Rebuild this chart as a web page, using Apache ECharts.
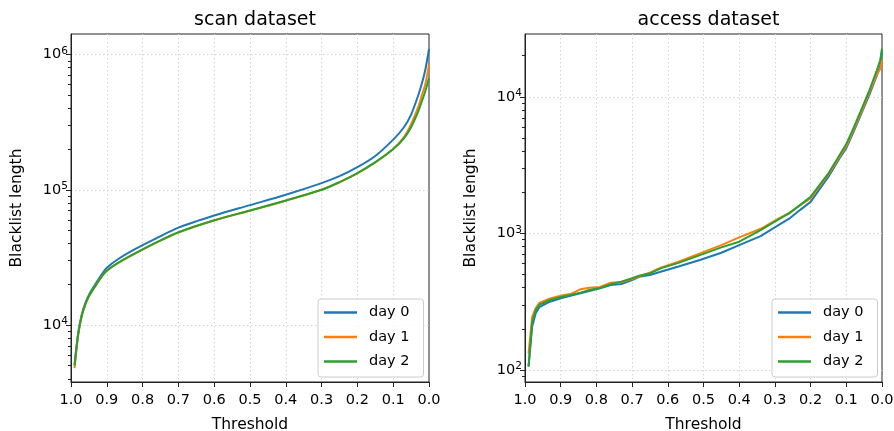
<!DOCTYPE html>
<html>
<head>
<meta charset="utf-8">
<script src="https://cdn.jsdelivr.net/npm/echarts@6/dist/echarts.min.js"></script>
<style>
  html, body { margin: 0; padding: 0; background: #fff; }
  #chart { width: 894px; height: 431px; }
</style>
</head>
<body>
<div id="chart"></div>
<script>
// --- data ---
const dayNames = ['day 0', 'day 1', 'day 2']
const dayColors = ['#1f77b4', '#ff7f0e', '#2ca02c']

const scanX = [0.99, 0.98, 0.97, 0.96, 0.95, 0.93, 0.915, 0.9, 0.87, 0.82, 0.76, 0.7, 0.6, 0.5, 0.4, 0.3, 0.25, 0.2, 0.15, 0.1, 0.07, 0.05, 0.03, 0.02, 0.01, 0.0]
const scanDay0 = [5100, 8700, 11900, 14500, 16700, 20400, 23500, 26500, 30500, 36500, 44000, 52500, 64500, 77000, 91900, 112000, 126000, 147000, 178000, 235000, 290000, 360000, 500000, 610000, 780000, 1100000]
const scanDay1 = [4800, 8400, 11700, 14200, 16300, 19800, 22700, 25200, 28500, 33800, 40800, 48300, 59300, 70000, 83000, 100000, 113500, 132000, 159000, 200000, 245000, 305000, 410000, 500000, 610000, 843000]
const scanDay2 = [5000, 8500, 11700, 14200, 16300, 19800, 22700, 25200, 28700, 34000, 41000, 48500, 59500, 70300, 83400, 100000, 114000, 133000, 160000, 200000, 240000, 290000, 380000, 450000, 540000, 671000]

const accessX = [0.99, 0.98, 0.97, 0.96, 0.93, 0.9, 0.87, 0.845, 0.82, 0.79, 0.76, 0.73, 0.7, 0.68, 0.65, 0.62, 0.57, 0.51, 0.45, 0.4, 0.34, 0.29, 0.26, 0.23, 0.2, 0.17, 0.15, 0.12, 0.1, 0.08, 0.06, 0.035, 0.015, 0.005, 0.0]
const accessDay0 = [106, 207, 260, 288, 316, 334, 350, 364, 378, 396, 419, 426, 455, 480, 495, 524, 572, 638, 721, 820, 955, 1150, 1280, 1480, 1700, 2200, 2600, 3500, 4200, 5500, 7300, 10400, 14200, 16800, 21900]
const accessDay1 = [132, 245, 283, 310, 334, 350, 362, 389, 400, 405, 435, 440, 462, 485, 515, 560, 620, 713, 820, 935, 1080, 1280, 1410, 1600, 1800, 2300, 2700, 3600, 4350, 5700, 7500, 10800, 14500, 16000, 18500]
const accessDay2 = [106, 225, 275, 300, 325, 342, 356, 368, 385, 398, 425, 443, 469, 490, 510, 554, 608, 693, 789, 869, 1057, 1266, 1400, 1610, 1850, 2350, 2750, 3700, 4500, 5900, 7800, 11200, 15500, 18500, 22500]

const scanYTicks = [1e4, 1e5, 1e6]
const accessYTicks = [1e2, 1e3, 1e4]
const scanYRange = [3785, 1.42e6]
const accessYRange = [81.6, 28800]

// --- helpers ---
const FONT = 'DejaVu Sans'
const INK = '#222222'
const powLabel = (v) => '{b|10}{s|' + Math.round(Math.log10(v)) + '}'
const powRich = {
  b: { fontFamily: FONT, fontSize: 14.5, lineHeight: 18, color: '#000' },
  s: { fontFamily: FONT, fontSize: 10.5, lineHeight: 10, verticalAlign: 'top', color: '#000' }
}

// 2..9 x 10^k inside the axis range
const minorTicks = (range) => {
  const out = []
  for (let e = Math.floor(Math.log10(range[0])); e <= Math.ceil(Math.log10(range[1])); e++) {
    for (let k = 2; k <= 9; k++) {
      const v = k * Math.pow(10, e)
      if (v > range[0] && v < range[1]) out.push(v)
    }
  }
  return out
}

const zip = (xs, ys) => xs.map((x, i) => [x, ys[i]])

const gridLine = { show: true, lineStyle: { color: '#d4d4d4', width: 1, type: [1.5, 2.5] } }

const panels = [
  { left: 71, top: 34, width: 358, height: 348 },
  { left: 525, top: 34, width: 357, height: 348 }
]

const xAxisFor = (gridIndex) => ({
  type: 'value', gridIndex, inverse: true, min: 0, max: 1, interval: 0.1,
  name: 'Threshold', nameLocation: 'middle', nameGap: 35,
  nameTextStyle: { fontFamily: FONT, fontSize: 15.5, color: '#000' },
  axisLine: { show: true, onZero: false, lineStyle: { color: INK, width: 1 } },
  axisTick: { show: true, inside: false, length: 5, lineStyle: { color: INK } },
  axisLabel: { fontFamily: FONT, fontSize: 14.5, color: '#000', margin: 11, formatter: v => v.toFixed(1) },
  splitLine: { ...gridLine, showMinLine: false, showMaxLine: false }
})

const yAxisFor = (gridIndex, range, ticks) => ({
  type: 'log', logBase: 10, gridIndex, position: 'left', min: range[0], max: range[1],
  name: 'Blacklist length', nameLocation: 'middle', nameGap: 46,
  nameTextStyle: { fontFamily: FONT, fontSize: 15.5, color: '#000' },
  axisLine: { show: true, onZero: false, lineStyle: { color: INK, width: 1 } },
  axisTick: { show: true, length: 5, customValues: ticks, lineStyle: { color: INK } },
  axisLabel: { margin: 3, customValues: ticks, formatter: powLabel, rich: powRich },
  splitLine: gridLine
})

// twin axis carrying the short minor ticks, pulled from the right edge back onto the left edge
const yMinorFor = (gridIndex, range) => ({
  type: 'log', logBase: 10, gridIndex, position: 'right', offset: -panels[gridIndex].width,
  min: range[0], max: range[1],
  axisLine: { show: false, onZero: false },
  axisTick: { show: true, inside: true, length: 3, customValues: minorTicks(range), lineStyle: { color: INK } },
  axisLabel: { show: false },
  splitLine: { show: false }
})

const lineSeries = (name, color, xIdx, yIdx, data, smooth) => ({
  name, type: 'line', xAxisIndex: xIdx, yAxisIndex: yIdx,
  data, symbol: 'none', smooth, color,
  lineStyle: { width: 2, color }
})

const legendAt = (left) => ({
  data: dayNames.map((name, i) => ({ name, icon: 'rect', itemStyle: { color: dayColors[i] } })),
  orient: 'vertical', left, top: 299,
  itemWidth: 33, itemHeight: 2.5, itemGap: 9.5,
  padding: [6, 14, 8, 6],
  backgroundColor: 'rgba(255,255,255,0.8)',
  borderColor: '#cccccc', borderWidth: 1, borderRadius: 3,
  textStyle: { fontFamily: FONT, fontSize: 14.5, lineHeight: 14, color: '#000', padding: [0, 0, 0, 7] }
})

const chart = echarts.init(document.getElementById('chart'), null, { renderer: 'canvas' })
chart.setOption({
  animation: false,
  backgroundColor: '#ffffff',
  textStyle: { fontFamily: FONT },
  title: [
    { text: 'scan dataset', left: 250, top: 6, textAlign: 'center',
      textStyle: { fontFamily: FONT, fontSize: 19, fontWeight: 'normal', color: '#000' } },
    { text: 'access dataset', left: 703.5, top: 6, textAlign: 'center',
      textStyle: { fontFamily: FONT, fontSize: 19, fontWeight: 'normal', color: '#000' } }
  ],
  grid: panels.map(p => ({ ...p, show: true, borderColor: INK, borderWidth: 1, backgroundColor: 'transparent', outerBoundsMode: 'none' })),
  xAxis: [xAxisFor(0), xAxisFor(1)],
  yAxis: [
    yAxisFor(0, scanYRange, scanYTicks),
    yAxisFor(1, accessYRange, accessYTicks),
    yMinorFor(0, scanYRange),
    yMinorFor(1, accessYRange)
  ],
  legend: [legendAt(318), legendAt(772)],
  series: [
    lineSeries(dayNames[0], dayColors[0], 0, 0, zip(scanX, scanDay0), 0.3),
    lineSeries(dayNames[1], dayColors[1], 0, 0, zip(scanX, scanDay1), 0.3),
    lineSeries(dayNames[2], dayColors[2], 0, 0, zip(scanX, scanDay2), 0.3),
    lineSeries(dayNames[0], dayColors[0], 1, 1, zip(accessX, accessDay0), false),
    lineSeries(dayNames[1], dayColors[1], 1, 1, zip(accessX, accessDay1), false),
    lineSeries(dayNames[2], dayColors[2], 1, 1, zip(accessX, accessDay2), false)
  ]
})
</script>
</body>
</html>
